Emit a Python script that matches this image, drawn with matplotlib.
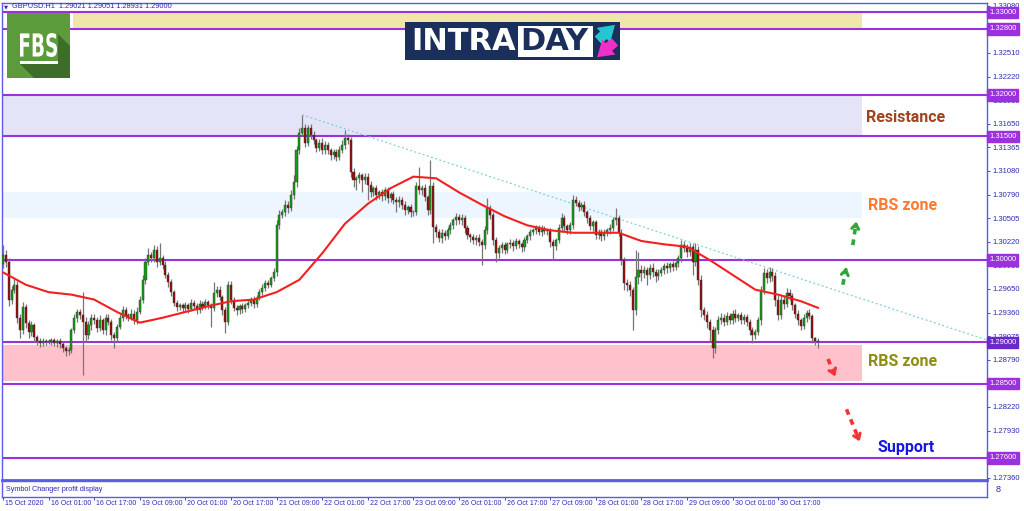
import numpy as np
import matplotlib.pyplot as plt
from matplotlib.patches import Rectangle, Polygon, PathPatch
from matplotlib.textpath import TextPath
from matplotlib.font_manager import FontProperties
from matplotlib.transforms import Affine2D, blended_transform_factory, ScaledTranslation

plt.rcParams['font.family'] = ['Liberation Sans', 'DejaVu Sans']

# ---------------- data ----------------
symbol_info = 'GBPUSD.H1  1.29021 1.29051 1.28931 1.29000'
first_open = 1.2995

# H1 closes, one row per 16 bars
closes = [
    1.3006, 1.2998, 1.2952, 1.2964, 1.2970, 1.2930, 1.2915, 1.2943, 1.2924, 1.2913, 1.2921, 1.2907, 1.2902, 1.2899, 1.2902, 1.2901,
    1.2901, 1.2903, 1.2899, 1.2902, 1.2898, 1.2893, 1.2890, 1.2891, 1.2915, 1.2930, 1.2937, 1.2933, 1.2925, 1.2909, 1.2921, 1.2930,
    1.2927, 1.2918, 1.2927, 1.2915, 1.2930, 1.2925, 1.2909, 1.2905, 1.2919, 1.2930, 1.2939, 1.2933, 1.2930, 1.2935, 1.2927, 1.2937,
    1.2952, 1.2976, 1.2998, 1.3006, 1.3002, 1.3012, 1.2998, 1.3002, 1.2994, 1.2982, 1.2973, 1.2961, 1.2948, 1.2943, 1.2945, 1.2942,
    1.2945, 1.2941, 1.2948, 1.2944, 1.2939, 1.2947, 1.2943, 1.2949, 1.2945, 1.2942, 1.2960, 1.2964, 1.2955, 1.2939, 1.2925, 1.2970,
    1.2952, 1.2942, 1.2939, 1.2944, 1.2941, 1.2945, 1.2948, 1.2952, 1.2947, 1.2954, 1.2961, 1.2966, 1.2972, 1.2970, 1.2978, 1.2985,
    1.3042, 1.3055, 1.3058, 1.3067, 1.3063, 1.3079, 1.3095, 1.3133, 1.3154, 1.3160, 1.3142, 1.3160, 1.3152, 1.3145, 1.3136, 1.3142,
    1.3133, 1.3139, 1.3133, 1.3127, 1.3131, 1.3125, 1.3133, 1.3139, 1.3148, 1.3145, 1.3107, 1.3097, 1.3099, 1.3103, 1.3097, 1.3101,
    1.3091, 1.3082, 1.3087, 1.3079, 1.3082, 1.3078, 1.3085, 1.3075, 1.3080, 1.3073, 1.3070, 1.3073, 1.3067, 1.3061, 1.3064, 1.3058,
    1.3058, 1.3090, 1.3085, 1.3087, 1.3076, 1.3061, 1.3090, 1.3040, 1.3034, 1.3027, 1.3033, 1.3029, 1.3036, 1.3042, 1.3048, 1.3052,
    1.3048, 1.3051, 1.3039, 1.3030, 1.3028, 1.3024, 1.3027, 1.3022, 1.3018, 1.3036, 1.3063, 1.3055, 1.3024, 1.3008, 1.3015, 1.3018,
    1.3012, 1.3019, 1.3021, 1.3017, 1.3023, 1.3019, 1.3016, 1.3024, 1.3029, 1.3034, 1.3036, 1.3039, 1.3034, 1.3038, 1.3035, 1.3036,
    1.3022, 1.3017, 1.3024, 1.3039, 1.3051, 1.3041, 1.3036, 1.3042, 1.3073, 1.3069, 1.3064, 1.3067, 1.3058, 1.3051, 1.3041, 1.3046,
    1.3030, 1.3034, 1.3029, 1.3033, 1.3036, 1.3039, 1.3048, 1.3051, 1.3033, 1.3000, 1.2972, 1.2970, 1.2964, 1.2939, 1.2979, 1.2988,
    1.2984, 1.2988, 1.2982, 1.2990, 1.2985, 1.2981, 1.2984, 1.2988, 1.2993, 1.2990, 1.2995, 1.2992, 1.2996, 1.3002, 1.3018, 1.3015,
    1.3010, 1.3016, 1.2998, 1.3012, 1.2976, 1.2939, 1.2933, 1.2925, 1.2915, 1.2893, 1.2915, 1.2927, 1.2930, 1.2925, 1.2932, 1.2927,
    1.2935, 1.2930, 1.2933, 1.2927, 1.2931, 1.2925, 1.2915, 1.2909, 1.2913, 1.2927, 1.2964, 1.2984, 1.2978, 1.2985, 1.2981, 1.2952,
    1.2933, 1.2952, 1.2947, 1.2960, 1.2956, 1.2945, 1.2935, 1.2927, 1.2920, 1.2930, 1.2936, 1.2932, 1.2905, 1.2902, 1.2900,
]

# wick length above / below the body, in pips
wick_up = [
    12, 6, 5, 4, 8, 4, 5, 6, 4, 3, 5, 3, 2, 3, 3, 2,
    3, 2, 3, 2, 3, 2, 3, 4, 3, 5, 4, 3, 28, 6, 5, 4,
    5, 4, 6, 3, 4, 5, 3, 4, 3, 4, 5, 4, 3, 5, 4, 6,
    4, 6, 5, 8, 4, 6, 5, 18, 4, 5, 3, 4, 3, 4, 3, 3,
    4, 3, 5, 3, 4, 5, 3, 4, 3, 3, 13, 5, 4, 3, 4, 5,
    4, 3, 4, 3, 4, 3, 4, 3, 4, 3, 4, 5, 4, 4, 3, 5,
    6, 5, 4, 6, 5, 6, 8, 5, 6, 16, 5, 4, 5, 4, 3, 5,
    6, 5, 4, 3, 4, 3, 5, 6, 10, 5, 4, 5, 3, 4, 3, 4,
    4, 5, 3, 4, 3, 4, 3, 4, 3, 4, 3, 4, 3, 4, 3, 4,
    3, 5, 23, 4, 5, 3, 31, 5, 4, 3, 4, 3, 4, 4, 3, 5,
    4, 5, 3, 4, 3, 4, 3, 4, 3, 5, 12, 4, 3, 4, 3, 4,
    4, 3, 4, 3, 4, 3, 3, 4, 3, 4, 3, 4, 3, 4, 3, 3,
    3, 4, 3, 5, 6, 4, 3, 4, 6, 5, 4, 3, 4, 3, 4, 3,
    3, 4, 3, 4, 3, 5, 4, 12, 4, 5, 4, 5, 4, 3, 33, 22,
    6, 5, 4, 5, 6, 4, 5, 4, 3, 4, 3, 4, 3, 4, 6, 5,
    4, 5, 3, 9, 5, 6, 4, 5, 4, 5, 4, 5, 6, 4, 5, 4,
    4, 5, 3, 4, 3, 4, 3, 4, 3, 4, 5, 6, 5, 6, 5, 4,
    5, 4, 5, 6, 5, 4, 3, 4, 3, 4, 3, 4, 3, 2, 3,
]
wick_dn = [
    5, 6, 8, 5, 4, 6, 10, 5, 6, 8, 5, 6, 5, 4, 3, 4,
    3, 4, 3, 4, 5, 4, 6, 5, 4, 3, 5, 4, 64, 8, 5, 6,
    4, 5, 4, 5, 6, 4, 6, 12, 4, 3, 4, 5, 4, 3, 5, 4,
    3, 4, 5, 4, 5, 4, 6, 4, 5, 4, 6, 5, 4, 5, 4, 5,
    4, 5, 3, 4, 5, 3, 4, 3, 4, 23, 4, 5, 4, 6, 13, 4,
    5, 4, 6, 4, 5, 4, 3, 4, 5, 4, 3, 4, 3, 4, 3, 4,
    4, 5, 4, 5, 6, 4, 5, 6, 5, 4, 5, 4, 5, 4, 5, 4,
    5, 4, 5, 6, 4, 5, 4, 3, 4, 5, 6, 8, 12, 6, 14, 5,
    18, 6, 5, 6, 5, 6, 5, 6, 5, 5, 12, 6, 5, 6, 5, 6,
    5, 4, 5, 6, 5, 6, 5, 19, 6, 5, 6, 5, 4, 5, 4, 5,
    4, 5, 6, 5, 6, 5, 6, 5, 24, 5, 4, 5, 6, 10, 5, 6,
    5, 4, 5, 6, 4, 5, 6, 5, 4, 5, 4, 5, 4, 5, 4, 5,
    6, 17, 5, 4, 5, 6, 5, 4, 5, 4, 5, 4, 5, 6, 5, 6,
    5, 4, 6, 5, 4, 5, 4, 5, 4, 6, 8, 7, 8, 24, 6, 8,
    10, 6, 12, 5, 6, 8, 5, 4, 5, 6, 4, 5, 4, 5, 4, 5,
    6, 5, 16, 5, 6, 8, 6, 7, 14, 12, 6, 5, 4, 5, 4, 5,
    4, 5, 4, 5, 4, 5, 6, 10, 5, 4, 6, 5, 6, 5, 6, 8,
    6, 5, 6, 4, 5, 6, 5, 6, 5, 4, 5, 4, 6, 5, 7,
]

# red moving average, read every 8 bars
ma_bar = [0, 8, 16, 24, 32, 40, 48, 56, 64, 72, 80, 88, 96, 104, 112, 120, 128, 136,
          144, 152, 160, 168, 176, 184, 192, 200, 208, 216, 224, 232, 240, 248, 256,
          264, 272, 280, 286]
ma_val = [1.2985, 1.2970, 1.2961, 1.2958, 1.2952, 1.2937, 1.2924, 1.2930, 1.2937,
          1.2944, 1.2950, 1.2952, 1.2961, 1.2976, 1.3008, 1.3044, 1.3068, 1.3087,
          1.3101, 1.3099, 1.3082, 1.3067, 1.3053, 1.3042, 1.3036, 1.3033, 1.3033,
          1.3033, 1.3023, 1.3019, 1.3016, 1.3000, 1.2982, 1.2964, 1.2958, 1.2950, 1.2942]

time_labels = ['15 Oct 2020', '16 Oct 01:00', '16 Oct 17:00', '19 Oct 09:00', '20 Oct 01:00',
               '20 Oct 17:00', '21 Oct 09:00', '22 Oct 01:00', '22 Oct 17:00', '23 Oct 09:00',
               '26 Oct 01:00', '26 Oct 17:00', '27 Oct 09:00', '28 Oct 01:00', '28 Oct 17:00',
               '29 Oct 09:00', '30 Oct 01:00', '30 Oct 17:00']
label_step = 16

levels = [1.3300, 1.3280, 1.3200, 1.3150, 1.3000, 1.2900, 1.2850, 1.2760]
last_price = 1.2900
price_ticks = [1.33080, 1.32510, 1.32220, 1.31935, 1.31650, 1.31365, 1.31080, 1.30790,
               1.30505, 1.30220, 1.29935, 1.29650, 1.29360, 1.29075, 1.28790, 1.28220,
               1.27930, 1.27645, 1.27360]

trend_bar = [105, 345.3]
trend_val = [1.3176, 1.2903]

# ---------------- figure ----------------
W, H = 1024, 511
fig = plt.figure(figsize=(W / 100, H / 100), dpi=100)
fig.patch.set_facecolor('white')

frame = '#5B5BE6'
navy = '#2A2AB4'
purple = '#9B30DC'

ax = fig.add_axes([2 / W, 1 - 480 / H, 985 / W, 477 / H])
ax.set_xlim(-0.35, 345.3)
ax.set_ylim(1.27333, 1.33115)

# zones
zone_end = 301.4
ax.add_patch(Rectangle((24.6, 1.3280), zone_end - 24.6, 0.0020, fc='#EEE6AA', ec='none', zorder=0.5))
ax.add_patch(Rectangle((-0.35, 1.3150), zone_end + 0.35, 0.0050, fc='#E4E4F8', ec='none', zorder=0.5))
ax.add_patch(Rectangle((-0.35, 1.3051), zone_end + 0.35, 0.0031, fc='#EDF5FE', ec='none', zorder=0.5))
ax.add_patch(Rectangle((-0.35, 1.2853), zone_end + 0.35, 0.0044, fc='#FFC2CC', ec='none', zorder=0.5))

for lv in levels:
    ax.axhline(lv, color=purple, lw=1.5, zorder=1)

ax.plot(trend_bar, trend_val, color='#78D2D6', lw=0.9, ls=(0, (1.5, 2)), zorder=2)

# candles
c = np.array(closes)
o = np.r_[first_open, c[:-1]]
hi = np.maximum(o, c) + np.array(wick_up) * 1e-4
lo = np.minimum(o, c) - np.array(wick_dn) * 1e-4
x = np.arange(len(c))
bull = c >= o
ax.vlines(x, lo, hi, color='#767676', lw=0.9, zorder=3)
bot = np.minimum(o, c)
hgt = np.maximum(np.abs(c - o), 0.00006)
ax.bar(x[bull], hgt[bull], bottom=bot[bull], width=0.72, color='#12A012',
       edgecolor='#333333', lw=0.3, zorder=4)
ax.bar(x[~bull], hgt[~bull], bottom=bot[~bull], width=0.72, color='#9A0C0C',
       edgecolor='#333333', lw=0.3, zorder=4)

ax.plot(ma_bar, ma_val, color='#F42020', lw=1.5, zorder=5)

# dashed arrows
def dash_arrow(x0, y0, x1, y1, col):
    ax.plot([x0, x0 + (x1 - x0) * 0.7], [y0, y0 + (y1 - y0) * 0.7], color=col, lw=2.6,
            ls=(0, (1.6, 1.4)), solid_capstyle='butt', zorder=6)
    ax.annotate('', xy=(x1, y1), xytext=(x0 + (x1 - x0) * 0.6, y0 + (y1 - y0) * 0.6),
                arrowprops=dict(arrowstyle='->,head_length=0.35,head_width=0.25',
                                color=col, lw=2.2), zorder=6)

dash_arrow(298.2, 1.3018, 299.6, 1.3050, '#2EA83A')
dash_arrow(294.7, 1.2970, 296.1, 1.2994, '#2EA83A')
dash_arrow(289.5, 1.2880, 292.4, 1.2856, '#F23434')
dash_arrow(296.0, 1.2819, 301.0, 1.2777, '#F23434')

lab = dict(family=['Roboto', 'DejaVu Sans'], weight='bold', fontsize=11.5, ha='left', va='center', zorder=7)
ax.text(303, 1.31733, 'Resistance', color='#A3421C', **lab)
ax.text(303.5, 1.30655, 'RBS zone', color='#FF7A2E', **lab)
ax.text(303.5, 1.28764, 'RBS zone', color='#8E8E12', **lab)
ax.text(306.7, 1.27733, 'Support', color='#1616E8', **lab)

# axes styling
ax.set_xticks([])
ax.yaxis.tick_right()
ax.set_yticks(price_ticks)
ax.set_yticklabels([f'{v:.5f}' for v in price_ticks])
ax.tick_params(axis='y', colors=navy, labelsize=5.5, length=2.5, width=0.6, pad=1.5)
for s in ax.spines.values():
    s.set_color(frame)
    s.set_linewidth(1)
ax.spines['bottom'].set_linewidth(2)

blend = blended_transform_factory(ax.transAxes, ax.transData)
for lv in levels:
    fc = '#6A28C8' if lv == last_price else purple
    ax.annotate(f'{lv:.5f}', xy=(1, lv), xycoords=blend, xytext=(2, 0), textcoords='offset pixels',
                ha='left', va='center', fontsize=5.5, color='white', zorder=20, annotation_clip=False,
                bbox=dict(boxstyle='square,pad=0.28', fc=fc, ec=fc))

# indicator sub window + time axis
ax2 = fig.add_axes([2 / W, 1 - 497 / H, 985 / W, 16 / H])
ax2.set_xlim(-0.35, 345.3)
ax2.set_yticks([])
tick_pos = np.arange(len(time_labels)) * label_step
ax2.set_xticks(tick_pos)
ax2.set_xticklabels(time_labels)
ax2.tick_params(axis='x', colors=navy, labelsize=5.0, length=2.5, width=0.6, pad=0)
shift = ScaledTranslation(2 / 100, 0, fig.dpi_scale_trans)
for t in ax2.get_xticklabels():
    t.set_ha('left')
    t.set_transform(t.get_transform() + shift)
for s in ax2.spines.values():
    s.set_color(frame)
    s.set_linewidth(1)
ax2.text(0.004, 0.5, 'Symbol Changer profit display', transform=ax2.transAxes,
         fontsize=5.2, color=navy, va='center')

# decorations in pixel coordinates
ax_d = fig.add_axes([0, 0, 1, 1], zorder=10)
ax_d.set_xlim(0, W)
ax_d.set_ylim(H, 0)
ax_d.axis('off')
ax_d.patch.set_alpha(0)

ax_d.text(4, 7, '▼', fontsize=3.8, color=navy, va='center', family=['DejaVu Sans'])
ax_d.text(12, 7, symbol_info, fontsize=5.3, color=navy, va='center')
ax_d.text(996, 489, '8', fontsize=6.5, color=navy, va='center')

# FBS logo
ax_d.add_patch(Rectangle((7, 13), 63, 65, fc='#5C9B3C', ec='none'))
ax_d.add_patch(Polygon([(57, 33), (70, 46), (70, 78), (34, 78), (20, 64), (58, 64), (58, 33)],
                       closed=True, fc='#3F6C28', ec='none'))
fp = FontProperties(family='DejaVu Sans', weight='bold')
tp = TextPath((0, 0), 'FBS', size=1, prop=fp)
bb = tp.get_extents()
tr = Affine2D().translate(-bb.x0, -bb.y0).scale(37 / bb.width, -24 / bb.height).translate(20, 57) + ax_d.transData
ax_d.add_patch(PathPatch(tp, fc='white', ec='none', transform=tr))
ax_d.add_patch(Rectangle((20, 61), 38, 3, fc='white', ec='none'))

# INTRADAY logo
ax_d.add_patch(Rectangle((405, 22), 215, 38, fc='#1B2F5C', ec='none'))
ax_d.add_patch(Rectangle((518, 26), 75, 31, fc='white', ec='none'))
ax_d.text(411, 42, 'INTRA', fontsize=22, weight='bold', color='white', va='center', family=['DejaVu Sans'])
ax_d.text(520, 42, 'DAY', fontsize=22, weight='bold', color='#1B2F5C', va='center', family=['DejaVu Sans'])
ax_d.annotate('', xy=(617, 23), xytext=(596, 42),
              arrowprops=dict(arrowstyle='simple,head_length=0.7,head_width=0.9,tail_width=0.45',
                              fc='#22C8D0', ec='none', mutation_scale=16))
ax_d.annotate('', xy=(595, 59), xytext=(617, 40),
              arrowprops=dict(arrowstyle='simple,head_length=0.7,head_width=0.9,tail_width=0.45',
                              fc='#EE2FC8', ec='none', mutation_scale=16))

fig.savefig('out.png', dpi=100)
